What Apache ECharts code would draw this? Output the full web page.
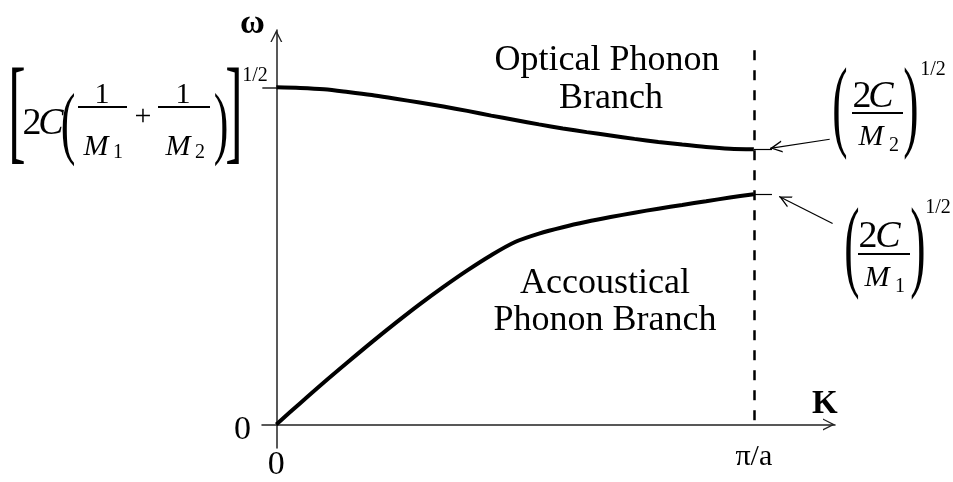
<!DOCTYPE html>
<html lang="en">
<head>
<meta charset="UTF-8">
<title>Phonon dispersion</title>
<script src="https://cdn.jsdelivr.net/npm/echarts@6/dist/echarts.min.js"></script>
<style>html,body{margin:0;padding:0;background:#fff;}</style>
</head>
<body>
<div id="main" style="width:953px;height:482px;"></div>
<script>
// K in units of pi/a, omega in units of the optical value at K = 0
var kValues = [0, 0.05, 0.1, 0.15, 0.2, 0.25, 0.3, 0.35, 0.4, 0.45, 0.5,
               0.55, 0.6, 0.65, 0.7, 0.75, 0.8, 0.85, 0.9, 0.95, 1.0];
var opticalOmega = [1.0, 0.998, 0.994, 0.986, 0.977, 0.966, 0.955, 0.943, 0.93, 0.916, 0.903,
                    0.89, 0.878, 0.867, 0.857, 0.847, 0.838, 0.83, 0.823, 0.818, 0.816];
var acousticOmega = [0, 0.063, 0.125, 0.185, 0.244, 0.301, 0.356, 0.408, 0.457, 0.502, 0.541,
                     0.566, 0.585, 0.601, 0.615, 0.628, 0.64, 0.651, 0.662, 0.673, 0.683];
var xTickValues = [0, 1];
var xTickLabels = ['0', 'π/a'];
var yTickValues = [0];
var yTickLabels = ['0'];
var zoneEdge = 1.0;      // K = pi/a
var dashTop = 1.11;

var SERIF = '"Liberation Serif", "Times New Roman", serif';
var INK = '#000';
// open arrow head, tip in the middle of its box so lines reach the tip
var CHEVRON = 'path://M5,10 L10,20 L8.8,20 L5,12.4 L1.2,20 L0,20 Z M5,0 L5.02,0 L5,0.02 Z';

function pairs(xs, ys) {
    return xs.map(function (x, i) { return [x, ys[i]]; });
}

function txt(s, x, y, size, opt) {
    opt = opt || {};
    return {
        type: 'text', x: x, y: y, scaleX: opt.sx || 1, silent: true,
        style: {
            text: s, fill: INK,
            font: (opt.italic ? 'italic ' : '') + (opt.bold ? 'bold ' : '') + size + 'px ' + SERIF,
            align: 'center', verticalAlign: 'middle'
        }
    };
}
function bar(x1, x2, y) {
    return { type: 'line', silent: true, shape: { x1: x1, y1: y, x2: x2, y2: y }, style: { stroke: INK, lineWidth: 2 } };
}

var optEnd = opticalOmega[opticalOmega.length - 1];
var acEnd = acousticOmega[acousticOmega.length - 1];

var chart = echarts.init(document.getElementById('main'));
var option = {
    animation: false,
    backgroundColor: '#fff',
    grid: { left: 262, right: 118, top: 30, bottom: 34, outerBoundsMode: 'none' },
    xAxis: {
        type: 'value', min: -0.03, max: 1.17,
        name: 'K', nameLocation: 'end', nameGap: -23,
        nameTextStyle: { fontFamily: SERIF, fontSize: 33, fontWeight: 'bold', color: INK, verticalAlign: 'bottom', padding: [0, 0, 3, 0] },
        axisLine: { onZero: true, lineStyle: { color: '#222', width: 1.5 }, symbol: ['none', CHEVRON], symbolSize: [12, 24] },
        axisTick: { show: false },
        splitLine: { show: false },
        axisLabel: {
            customValues: xTickValues, margin: -6,
            formatter: function (v) {
                var i = xTickValues.indexOf(v);
                return i === 0 ? '{z|' + xTickLabels[i] + '}' : '{p|' + xTickLabels[i] + '}';
            },
            rich: {
                z: { fontFamily: SERIF, fontSize: 34, color: INK, padding: [6, 0, 0, 0] },
                p: { fontFamily: SERIF, fontSize: 30, color: INK }
            }
        }
    },
    yAxis: {
        type: 'value', min: -0.07, max: 1.17,
        name: 'ω', nameLocation: 'end', nameGap: 6,
        nameTextStyle: { fontFamily: SERIF, fontSize: 34, fontWeight: 'bold', color: INK, verticalAlign: 'middle', padding: [0, 48, 0, 0] },
        axisLine: { onZero: true, lineStyle: { color: '#222', width: 1.5 }, symbol: ['none', CHEVRON], symbolSize: [12, 24] },
        axisTick: { show: true, customValues: [1], length: 14, lineStyle: { color: '#222', width: 1.5 } },
        splitLine: { show: false },
        axisLabel: {
            customValues: yTickValues, margin: 11,
            formatter: function (v) { return yTickLabels[yTickValues.indexOf(v)]; },
            fontFamily: SERIF, fontSize: 34, color: INK, verticalAlign: 'top', lineHeight: 12
        }
    },
    series: [
        {
            name: 'Optical', type: 'line', data: pairs(kValues, opticalOmega),
            smooth: 0.3, showSymbol: false, silent: true,
            lineStyle: { color: INK, width: 4 },
            markLine: {
                silent: true, symbol: ['none', 'none'], label: { show: false },
                lineStyle: { color: INK, width: 1.2, type: 'solid' },
                data: [
                    [{ coord: [zoneEdge, dashTop], lineStyle: { type: [10, 10], width: 2.5, color: INK } }, { coord: [zoneEdge, 0] }],
                    [{ coord: [zoneEdge, optEnd] }, { coord: [1.038, optEnd] }],
                    [{ coord: [zoneEdge, acEnd] }, { coord: [1.038, acEnd] }],
                    [{ coord: [1.159, 0.846] }, { coord: [1.034, 0.819], symbol: CHEVRON, symbolSize: [12, 24] }],
                    [{ coord: [1.165, 0.596] }, { coord: [1.053, 0.676], symbol: CHEVRON, symbolSize: [12, 24] }]
                ]
            }
        },
        {
            name: 'Acoustical', type: 'line', data: pairs(kValues, acousticOmega),
            smooth: 0.3, showSymbol: false, silent: true,
            lineStyle: { color: INK, width: 4 }
        }
    ],
    graphic: [
        txt('Optical Phonon', 607, 61, 36),
        txt('Branch', 611, 99, 36),
        txt('Accoustical', 605, 284, 36),
        txt('Phonon Branch', 605, 321, 36),

        // [2C(1/M1 + 1/M2)]^1/2
        txt('[', 17, 118, 116, { sx: 0.45 }),
        txt('2', 32, 124, 38),
        txt('C', 51, 124, 38, { italic: true }),
        txt('(', 68, 128, 80, { sx: 0.55 }),
        txt('1', 102, 95, 30),
        bar(78, 127, 107),
        txt('M', 96, 147, 30, { italic: true }),
        txt('1', 118, 153, 20),
        txt('+', 143, 117, 30),
        txt('1', 183, 95, 30),
        bar(158, 210, 107),
        txt('M', 178, 147, 30, { italic: true }),
        txt('2', 200, 153, 20),
        txt(')', 221, 128, 80, { sx: 0.55 }),
        txt(']', 234, 118, 116, { sx: 0.45 }),
        txt('1/2', 255, 76, 20),

        // (2C/M2)^1/2
        txt('(', 840, 111, 102, { sx: 0.45 }),
        txt('2', 862, 97, 38),
        txt('C', 881, 97, 38, { italic: true }),
        bar(852, 903, 113),
        txt('M', 871, 137, 30, { italic: true }),
        txt('2', 894, 146, 20),
        txt(')', 911, 111, 102, { sx: 0.45 }),
        txt('1/2', 933, 70, 20),

        // (2C/M1)^1/2
        txt('(', 852, 251, 102, { sx: 0.45 }),
        txt('2', 868, 237, 38),
        txt('C', 888, 237, 38, { italic: true }),
        bar(858, 910, 254),
        txt('M', 877, 278, 30, { italic: true }),
        txt('1', 900, 287, 20),
        txt(')', 918, 251, 102, { sx: 0.45 }),
        txt('1/2', 938, 208, 20)
    ]
};
chart.setOption(option);
</script>
</body>
</html>
